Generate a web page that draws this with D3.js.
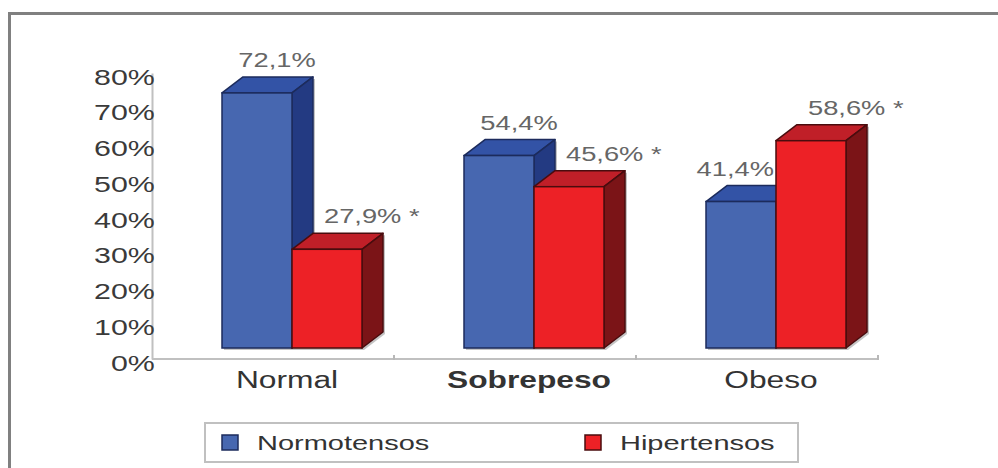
<!DOCTYPE html>
<html>
<head>
<meta charset="utf-8">
<script src="https://cdnjs.cloudflare.com/ajax/libs/d3/7.8.5/d3.min.js"></script>
<style>
    body { margin: 0; background: #fff; }
    svg { display: block; font-family: "Liberation Sans", Arial, sans-serif; }
    .axis path { stroke: #c0c0c0; stroke-width: 2; }
    .axis text { fill: #3a3a3a; font-size: 22px; }
</style>
</head>
<body>
<div id="chart"></div>
<script>

const categories = ["Normal", "Sobrepeso", "Obeso"];
const seriesNames = ["Normotensos", "Hipertensos"];
const normotensos = [72.1, 54.4, 41.4];
const hipertensos = [27.9, 45.6, 58.6];
const hiperSignif = [true, true, true];   // the "*" after the label
const yTicks = [0, 10, 20, 30, 40, 50, 60, 70, 80];

const colors = {
    Normotensos: { front: "#4767b0", top: "#3353a6", side: "#233a82", edge: "#1c2b5c" },
    Hipertensos: { front: "#ed2126", top: "#c01f28", side: "#7b1417", edge: "#4a0c0e" }
};

const stretch = 1.38;     // the picture's text is wide
const depth = { dx: 21, dy: -16 };

const width = 998, height = 468;

const svg = d3.select("#chart").append("svg")
    .attr("width", width)
    .attr("height", height);

// outer frame (runs off the right and bottom edge)
svg.append("rect")
    .attr("x", 9.5)
    .attr("y", 13.5)
    .attr("width", 1100)
    .attr("height", 600)
    .attr("fill", "none")
    .attr("stroke", "#808080")
    .attr("stroke-width", 3);

// scales
let x = d3.scaleBand()
    .domain(categories)
    .range([152, 878]);

let xSub = d3.scaleBand()
    .domain(seriesNames)
    .range([-51, 89]);

let yAxisScale = d3.scaleLinear()
    .domain([0, 80])
    .range([359, 73]);

// front faces sit a bit higher than the axis (3d floor)
let yBar = d3.scaleLinear()
    .domain([0, 80])
    .range([348, 65]);

// Y axis
let yAxis = d3.axisLeft(yAxisScale)
    .tickValues(yTicks)
    .tickFormat(d => d + "%")
    .tickSize(0)
    .tickSizeOuter(0);

let gy = svg.append("g")
    .attr("class", "axis y-axis")
    .attr("transform", "translate(152,0)")
    .call(yAxis);

gy.selectAll("text")
    .attr("x", 2)
    .attr("dy", "0.5em")
    .attr("transform", `scale(${stretch},1)`);

// X axis line with ticks at band edges
let y0 = yAxisScale(0);
svg.append("line")
    .attr("x1", x.range()[0])
    .attr("x2", x.range()[1])
    .attr("y1", y0)
    .attr("y2", y0)
    .attr("stroke", "#c0c0c0")
    .attr("stroke-width", 2);

svg.selectAll(".x-tick")
    .data(categories)
    .enter().append("line")
    .attr("class", "x-tick")
    .attr("x1", d => x(d) + x.bandwidth())
    .attr("x2", d => x(d) + x.bandwidth())
    .attr("y1", y0 - 4)
    .attr("y2", y0 + 1)
    .attr("stroke", "#b8b8b8")
    .attr("stroke-width", 2);

svg.selectAll(".cat-label")
    .data(categories)
    .enter().append("text")
    .attr("class", "cat-label")
    .attr("transform", d => `translate(${x(d) + x.bandwidth() / 2 + 14},388) scale(${stretch},1)`)
    .attr("text-anchor", "middle")
    .attr("font-size", 23)
    .attr("font-weight", d => d === "Sobrepeso" ? "bold" : "normal")
    .attr("fill", "#333")
    .text(d => d);

// bars
let bars = [];
categories.forEach((c, i) => {
    bars.push({ cat: c, series: "Normotensos", value: normotensos[i], other: hipertensos[i], i: i });
    bars.push({ cat: c, series: "Hipertensos", value: hipertensos[i], other: normotensos[i], i: i });
});

function pts(arr) {
    return arr.map(p => p.join(",")).join(" ");
}

let barG = svg.selectAll(".bar")
    .data(bars)
    .enter().append("g")
    .attr("class", "bar");

barG.each(function(d) {
    let g = d3.select(this);
    let x0 = x(d.cat) + x.bandwidth() / 2 + xSub(d.series);
    let x1 = x0 + xSub.bandwidth();
    let yt = yBar(d.value);
    let yb = yBar(0);
    let dx = depth.dx, dy = depth.dy;
    let col = colors[d.series];

    // soft grey shadow of the silhouette
    g.append("polygon")
        .attr("points", pts([[x0, yb], [x0, yt], [x0 + dx, yt + dy], [x1 + dx, yt + dy], [x1 + dx, yb + dy], [x1, yb]]))
        .attr("transform", "translate(2,2)")
        .attr("fill", "#c4c4c4");

    g.append("polygon")
        .attr("points", pts([[x0, yt], [x0 + dx, yt + dy], [x1 + dx, yt + dy], [x1, yt]]))
        .attr("fill", col.top)
        .attr("stroke", col.edge)
        .attr("stroke-width", 1.5)
        .attr("stroke-linejoin", "round");

    g.append("polygon")
        .attr("points", pts([[x1, yt], [x1 + dx, yt + dy], [x1 + dx, yb + dy], [x1, yb]]))
        .attr("fill", col.side)
        .attr("stroke", col.edge)
        .attr("stroke-width", 1.5)
        .attr("stroke-linejoin", "round");

    g.append("rect")
        .attr("x", x0)
        .attr("y", yt)
        .attr("width", x1 - x0)
        .attr("height", yb - yt)
        .attr("fill", col.front)
        .attr("stroke", col.edge)
        .attr("stroke-width", 1.5);
});

// value labels
let fmt = v => v.toFixed(1).replace(".", ",") + "%";

svg.selectAll(".val-label")
    .data(bars)
    .enter().append("text")
    .attr("class", "val-label")
    .attr("font-size", 21)
    .attr("fill", "#666")
    .attr("text-anchor", d => {
        if (d.series === "Hipertensos") return "start";
        return d.other > d.value ? "end" : "middle";
    })
    .attr("transform", d => {
        let x0 = x(d.cat) + x.bandwidth() / 2 + xSub(d.series);
        let w = xSub.bandwidth();
        let tx;
        if (d.series === "Hipertensos") {
            tx = x0 + 32;
        } else {
            tx = d.other > d.value ? x0 + w - 2 : x0 + w / 2 + 20;
        }
        let ty = yBar(d.value) + depth.dy - 10;
        return `translate(${tx},${ty}) scale(1.3,1)`;
    })
    .text(d => {
        let t = fmt(d.value);
        if (d.series === "Hipertensos" && hiperSignif[d.i]) t += " *";
        return t;
    });

// legend
let legend = svg.append("g").attr("class", "legend");

legend.append("rect")
    .attr("x", 205)
    .attr("y", 423)
    .attr("width", 593)
    .attr("height", 39)
    .attr("fill", "#fff")
    .attr("stroke", "#c0c0c0")
    .attr("stroke-width", 2);

let lx = d3.scalePoint()
    .domain(seriesNames)
    .range([222, 585]);

let item = legend.selectAll(".leg-item")
    .data(seriesNames)
    .enter().append("g")
    .attr("class", "leg-item")
    .attr("transform", d => `translate(${lx(d)},435)`);

item.append("rect")
    .attr("width", 16)
    .attr("height", 15)
    .attr("fill", d => colors[d].front)
    .attr("stroke", d => colors[d].edge)
    .attr("stroke-width", 1.5);

item.append("text")
    .attr("transform", `translate(35,15) scale(${stretch},1)`)
    .attr("font-size", 21)
    .attr("fill", "#333")
    .text(d => d);

</script>
</body>
</html>
